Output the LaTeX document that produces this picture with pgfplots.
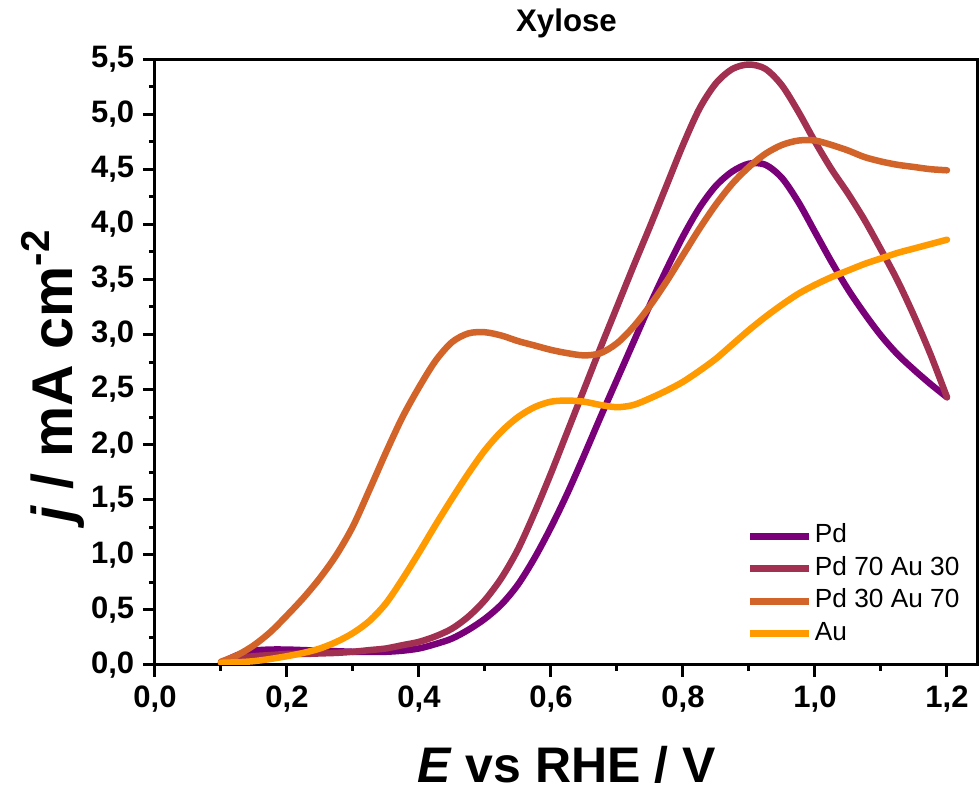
\documentclass[border=0pt]{standalone}
\usepackage{fontspec}
\setmainfont{Liberation Sans}
\usepackage{pgfplots}
\usepackage{pgfplotstable}
\pgfplotsset{compat=1.18}

\definecolor{cPd}{RGB}{122,0,122}
\definecolor{cPdA}{RGB}{162,48,80}
\definecolor{cPdB}{RGB}{210,100,42}
\definecolor{cAu}{RGB}{255,154,0}

% anodic sweeps, E (V vs RHE) and j (mA cm^-2)
\pgfplotstableread{
x y
0.100 0.02
0.125 0.09
0.150 0.13
0.175 0.14
0.200 0.14
0.225 0.135
0.250 0.13
0.275 0.125
0.300 0.12
0.325 0.12
0.350 0.12
0.375 0.13
0.400 0.15
0.425 0.19
0.450 0.24
0.475 0.32
0.500 0.42
0.525 0.55
0.550 0.73
0.575 0.97
0.600 1.25
0.625 1.56
0.650 1.90
0.675 2.25
0.700 2.59
0.725 2.93
0.750 3.27
0.775 3.59
0.800 3.89
0.825 4.15
0.850 4.35
0.875 4.48
0.900 4.55
0.925 4.54
0.950 4.42
0.975 4.20
1.000 3.93
1.025 3.66
1.050 3.41
1.075 3.19
1.100 2.99
1.125 2.82
1.150 2.68
1.175 2.55
1.200 2.43
}\tabPd

\pgfplotstableread{
x y
0.100 0.02
0.125 0.06
0.150 0.08
0.175 0.09
0.200 0.10
0.225 0.10
0.250 0.105
0.275 0.11
0.300 0.12
0.325 0.135
0.350 0.15
0.375 0.18
0.400 0.21
0.425 0.26
0.450 0.33
0.475 0.44
0.500 0.59
0.525 0.79
0.550 1.05
0.575 1.38
0.600 1.74
0.625 2.12
0.650 2.50
0.675 2.88
0.700 3.25
0.725 3.62
0.750 3.98
0.775 4.35
0.800 4.72
0.825 5.05
0.850 5.28
0.875 5.41
0.900 5.45
0.925 5.41
0.950 5.26
0.975 5.02
1.000 4.75
1.025 4.50
1.050 4.28
1.075 4.04
1.100 3.77
1.125 3.49
1.150 3.17
1.175 2.82
1.200 2.43
}\tabPdA

\pgfplotstableread{
x y
0.100 0.03
0.125 0.09
0.150 0.18
0.175 0.30
0.200 0.45
0.225 0.61
0.250 0.79
0.275 1.00
0.300 1.26
0.325 1.59
0.350 1.93
0.375 2.25
0.400 2.52
0.425 2.76
0.450 2.93
0.475 3.01
0.500 3.02
0.525 2.99
0.550 2.94
0.575 2.90
0.600 2.86
0.625 2.83
0.650 2.81
0.675 2.83
0.700 2.92
0.725 3.07
0.750 3.26
0.775 3.48
0.800 3.72
0.825 3.96
0.850 4.18
0.875 4.37
0.900 4.52
0.925 4.64
0.950 4.72
0.975 4.76
1.000 4.76
1.025 4.72
1.050 4.67
1.075 4.61
1.100 4.57
1.125 4.54
1.150 4.52
1.175 4.50
1.200 4.49
}\tabPdB

\pgfplotstableread{
x y
0.100 0.02
0.125 0.025
0.150 0.035
0.175 0.055
0.200 0.08
0.225 0.11
0.250 0.15
0.275 0.21
0.300 0.29
0.325 0.40
0.350 0.56
0.375 0.78
0.400 1.02
0.425 1.27
0.450 1.51
0.475 1.74
0.500 1.95
0.525 2.12
0.550 2.25
0.575 2.34
0.600 2.39
0.625 2.40
0.650 2.39
0.675 2.36
0.700 2.34
0.725 2.36
0.750 2.42
0.775 2.49
0.800 2.57
0.825 2.67
0.850 2.78
0.875 2.91
0.900 3.04
0.925 3.16
0.950 3.27
0.975 3.37
1.000 3.45
1.025 3.52
1.050 3.58
1.075 3.64
1.100 3.69
1.125 3.74
1.150 3.78
1.175 3.82
1.200 3.86
}\tabAu

\begin{document}
\begin{tikzpicture}
\begin{axis}[
  name=ax,
  scale only axis, width=329.2pt, height=242.4pt,
  xmin=0, xmax=1.247, ymin=0, ymax=5.5,
  xtick={0,0.2,0.4,0.6,0.8,1.0,1.2},
  ytick={0,0.5,1.0,1.5,2.0,2.5,3.0,3.5,4.0,4.5,5.0,5.5},
  minor x tick num=1, minor y tick num=1,
  xtick pos=left, ytick pos=left, tick align=outside,
  major tick length=4.8pt, minor tick length=2.4pt,
  every tick/.style={black, line width=1.2pt},
  axis line style={line width=1.2pt},
  /pgf/number format/.cd, use comma, fixed, fixed zerofill, precision=1, assume math mode=true,
  /pgfplots/.cd,
  tick label style={font=\fontsize{12.4}{14}\selectfont\bfseries},
  title={Xylose},
  title style={font=\fontsize{12.5}{14}\selectfont\bfseries, at={(axis description cs:0.5,1)}, anchor=base, yshift=5.2pt},
  xlabel={\textbf{\textit{E} vs RHE / V}},
  xlabel style={font=\fontsize{20}{23}\selectfont, at={(axis description cs:0.5,0)}, anchor=base, yshift=-47.2pt},
  ylabel={\textbf{\textit{j} / mA cm\textsuperscript{-2}}},
  ylabel style={font=\fontsize{23}{26}\selectfont, at={(axis description cs:-0.1008,0.477)}, anchor=base},
  legend style={at={(axis description cs:0.718,0.24)}, anchor=north west, draw=none, fill=none,
    font=\fontsize{10.5}{12}\selectfont, row sep=0pt, inner sep=0pt,
    nodes={inner sep=1pt, text height=8pt, text depth=3pt}},
  legend cell align=left,
  legend image code/.code={\draw[#1, line width=2.8pt, line cap=butt] (0pt,0pt) -- (23.6pt,0pt);},
  every axis plot/.append style={line width=2.6pt, line cap=round, line join=round, smooth, tension=0.5},
]
\addplot[cPd]  table[x=x,y=y] {\tabPd};
\addlegendentry{Pd}
\addplot[cPdA] table[x=x,y=y] {\tabPdA};
\addlegendentry{Pd 70 Au 30}
\addplot[cPdB] table[x=x,y=y] {\tabPdB};
\addlegendentry{Pd 30 Au 70}
\addplot[cAu]  table[x=x,y=y] {\tabAu};
\addlegendentry{Au}
\end{axis}
\path ([shift={(-62pt,-50pt)}]ax.south west) rectangle ([shift={(0.8pt,23.6pt)}]ax.north east);
\end{tikzpicture}
\end{document}
